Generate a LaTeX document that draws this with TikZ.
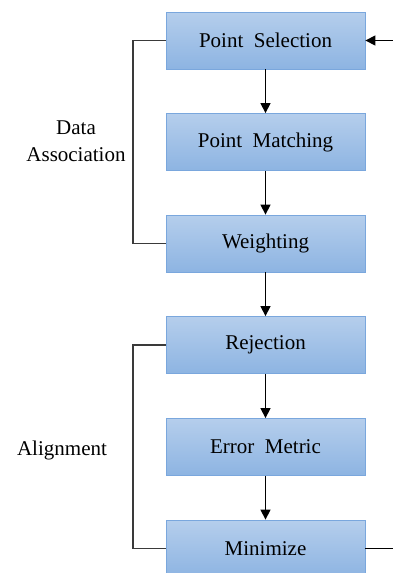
\documentclass[tikz,border=0pt]{standalone}
\usepackage{fontspec}
\setmainfont{Liberation Serif}
\newfontfamily\diagfont{Liberation Serif}
\usetikzlibrary{arrows.meta}
\definecolor{boxtop}{HTML}{B5CEEC}
\definecolor{boxbot}{HTML}{8DB4E2}
\definecolor{boxline}{HTML}{7AA7DD}
\definecolor{brack}{HTML}{3A3A3A}
\tikzset{
  stage/.style={draw=boxline, line width=0.8pt, top color=boxtop, bottom color=boxbot,
    minimum width=199pt, minimum height=57pt, inner sep=0pt,
    font=\diagfont\fontsize{21}{25}\selectfont},
  flow/.style={line width=1.3pt, -{Triangle[length=10pt,width=10pt]}},
  group/.style={draw=brack, line width=1.3pt},
  grouplabel/.style={align=center, font=\diagfont\fontsize{21}{27}\selectfont}
}
\begin{document}
\begin{tikzpicture}[x=1pt,y=1pt]
\useasboundingbox (0,0) rectangle (393,-573);
\begin{scope}
\clip (0,0) rectangle (393,-573);
% processing stages
\node[stage] (sel) at (265.5,-40.5) {Point\ \ Selection};
\node[stage] (mat) at (265.5,-142) {Point\ \ Matching};
\node[stage] (wei) at (265.5,-243.5) {Weighting};
\node[stage] (rej) at (265.5,-345) {Rejection};
\node[stage] (err) at (265.5,-447) {Error\ \ Metric};
\node[stage] (min) at (265.5,-548.5) {Minimize};

% loop-back ends
\coordinate (in) at (393,-40.5);
\coordinate (out) at (393,-548.5);
\coordinate (da1) at (133,-40.5);
\coordinate (da2) at (133,-243.5);
\coordinate (al1) at (133,-345);
\coordinate (al2) at (133,-548.5);

% flow between stages
\draw[flow] (sel) -- (mat);
\draw[flow] (mat) -- (wei);
\draw[flow] (wei) -- (rej);
\draw[flow] (rej) -- (err);
\draw[flow] (err) -- (min);
\draw[flow] (in) -- (sel.east);
\draw[line width=1.3pt] (min.east) -- (out);

% grouping brackets
\draw[group] (sel.west) -- (da1) -- (da2) -- (wei.west);
\draw[group] (rej.west) -- (al1) -- (al2) -- (min.west);
\end{scope}

% group labels
\node[grouplabel] (lda) at (76,-141) {Data\\Association};
\node[grouplabel] (lal) at (62,-450) {Alignment};
\end{tikzpicture}
\end{document}
